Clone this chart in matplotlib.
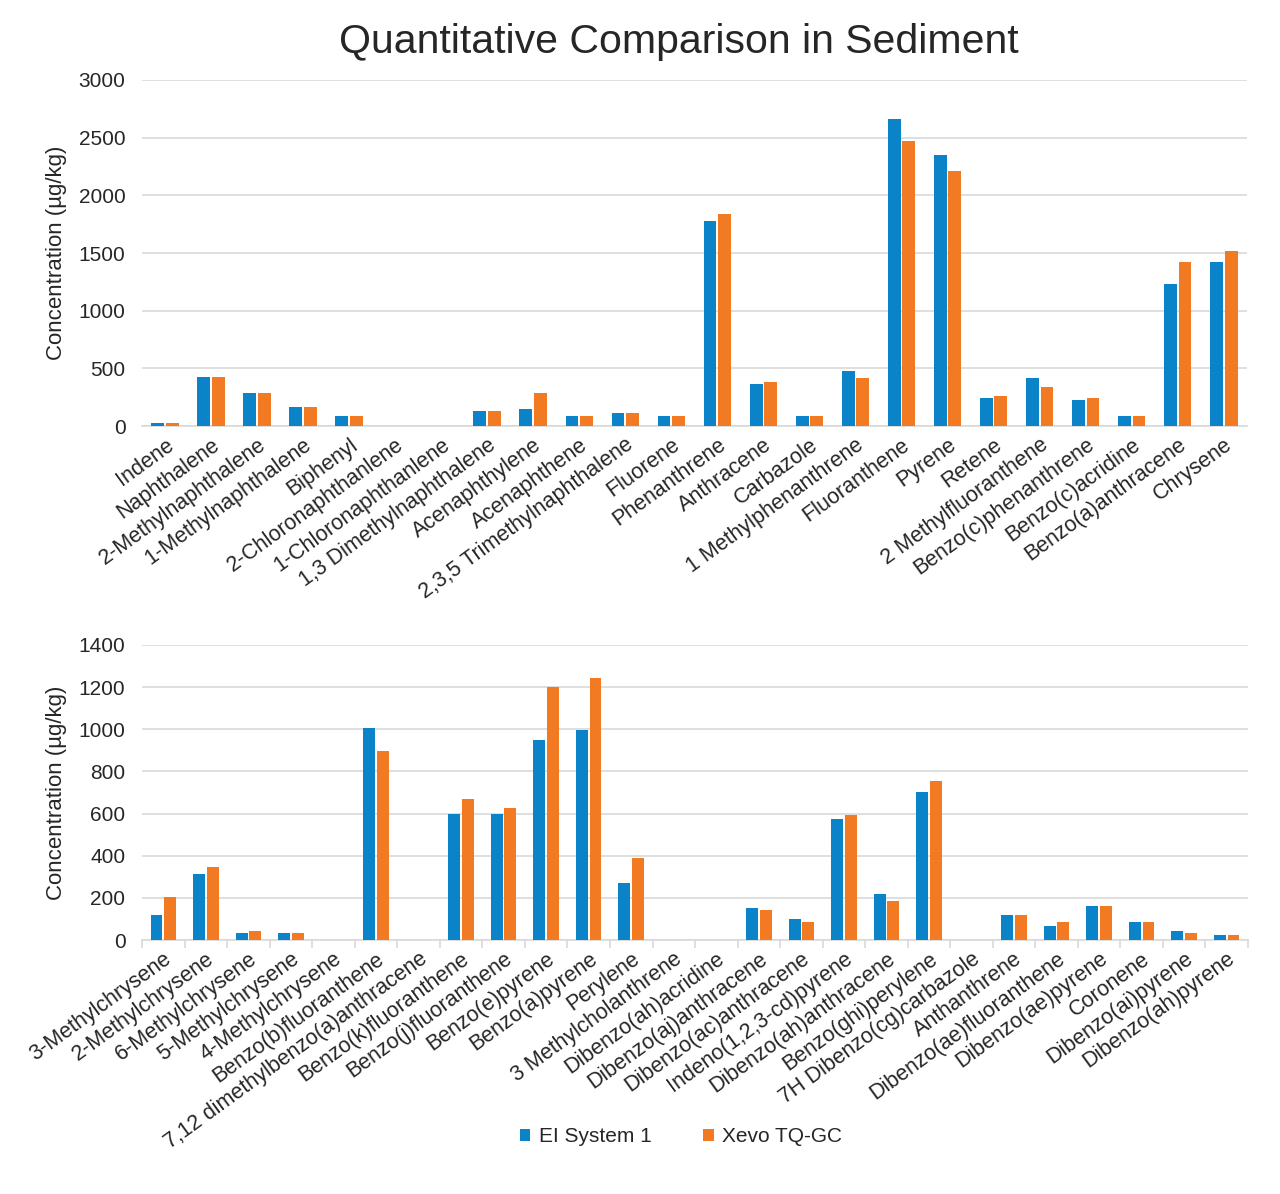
import matplotlib
matplotlib.use("Agg")
import matplotlib.pyplot as plt
import numpy as np

plt.rcParams['font.family'] = ['Liberation Sans', 'DejaVu Sans']

top_categories = ["Indene", "Naphthalene", "2-Methylnaphthalene", "1-Methylnaphthalene",
                  "Biphenyl", "2-Chloronaphthanlene", "1-Chloronaphthanlene",
                  "1,3 Dimethylnaphthalene", "Acenaphthylene", "Acenaphthene",
                  "2,3,5 Trimethylnaphthalene", "Fluorene", "Phenanthrene", "Anthracene",
                  "Carbazole", "1 Methylphenanthrene", "Fluoranthene", "Pyrene", "Retene",
                  "2 Methylfluoranthene", "Benzo(c)phenanthrene", "Benzo(c)acridine",
                  "Benzo(a)anthracene", "Chrysene"]
top_ei = [26, 429, 288, 168, 88, 0, 0, 126, 150, 88, 109, 88, 1780, 360, 86, 478,
          2665, 2350, 242, 418, 222, 86, 1227, 1420]
top_xevo = [26, 429, 288, 168, 88, 0, 0, 126, 288, 88, 109, 88, 1835, 380, 86, 418,
            2470, 2210, 262, 340, 242, 86, 1420, 1521]

bot_categories = ["3-Methylchrysene", "2-Methylchrysene", "6-Methylchrysene",
                  "5-Methylchrysene", "4-Methylchrysene", "Benzo(b)fluoranthene",
                  "7,12 dimethylbenzo(a)anthracene", "Benzo(k)fluoranthene",
                  "Benzo(j)fluoranthene", "Benzo(e)pyrene", "Benzo(a)pyrene", "Perylene",
                  "3 Methylcholanthrene", "Dibenzo(ah)acridine", "Dibenzo(aj)anthracene",
                  "Dibenzo(ac)anthracene", "Indeno(1,2,3-cd)pyrene", "Dibenzo(ah)anthracene",
                  "Benzo(ghi)perylene", "7H Dibenzo(cg)carbazole", "Anthanthrene",
                  "Dibenzo(ae)fluoranthene", "Dibenzo(ae)pyrene", "Coronene",
                  "Dibenzo(ai)pyrene", "Dibenzo(ah)pyrene"]
bot_ei = [119, 313, 32, 32, 0, 1006, 0, 596, 596, 951, 995, 270, 0, 0, 152, 98,
          573, 217, 703, 0, 119, 65, 163, 87, 43, 22]
bot_xevo = [206, 346, 43, 32, 0, 897, 0, 671, 628, 1201, 1244, 389, 0, 0, 141, 87,
            595, 184, 756, 0, 119, 87, 163, 87, 33, 22]

series_names = ["EI System 1", "Xevo TQ-GC"]
blue = "#0A83C9"
orange = "#F27A22"
grid_c = "#D9D9D9"
text_c = "#262626"

fig = plt.figure(figsize=(12.8, 11.94), dpi=100)
ax1 = fig.add_axes([0.111, 0.6432, 0.863, 0.2898])
ax2 = fig.add_axes([0.111, 0.2127, 0.864, 0.2471])

bw = 0.28
off = 0.16


def draw(ax, cats, a, b, ymax, ystep, ticks_marks):
    x = np.arange(len(cats))
    ax.bar(x - off, a, bw, color=blue, label=series_names[0], zorder=3)
    ax.bar(x + off, b, bw, color=orange, label=series_names[1], zorder=3)
    ax.set_xlim(-0.5, len(cats) - 0.5)
    ax.set_ylim(0, ymax)
    ax.set_yticks(np.arange(0, ymax + 1, ystep))
    ax.yaxis.grid(True, color=grid_c, linewidth=1.2, zorder=0)
    ax.set_axisbelow(True)
    for s in ["top", "right", "left"]:
        ax.spines[s].set_visible(False)
    ax.spines["bottom"].set_color(grid_c)
    ax.spines["bottom"].set_linewidth(1.2)
    ax.set_xticks(x)
    ax.set_xticklabels(cats, rotation=36, ha="right", rotation_mode="anchor",
                       fontsize=15.5, color=text_c)
    ax.tick_params(axis="x", length=0, pad=6)
    ax.tick_params(axis="y", length=0, labelsize=15, labelcolor=text_c, pad=12)
    if ticks_marks:
        ax.set_xticks(np.arange(len(cats) + 1) - 0.5, minor=True)
        ax.tick_params(axis="x", which="minor", length=6, color=grid_c, width=1.2)
    ax.set_ylabel("Concentration (µg/kg)", fontsize=16, color=text_c, labelpad=8)


draw(ax1, top_categories, top_ei, top_xevo, 3000, 500, False)
draw(ax2, bot_categories, bot_ei, bot_xevo, 1400, 200, True)

fig.text(0.53, 0.965, "Quantitative Comparison in Sediment", ha="center", va="center",
         fontsize=29.5, color=text_c)

handles, labels = ax2.get_legend_handles_labels()
fig.legend(handles, labels, loc="center", bbox_to_anchor=(0.532, 0.048), ncol=2,
           frameon=False, fontsize=15, handlelength=0.5, handleheight=0.5,
           columnspacing=2.5, handletextpad=0.4, labelcolor=text_c)

fig.savefig("out.png", dpi=100)
